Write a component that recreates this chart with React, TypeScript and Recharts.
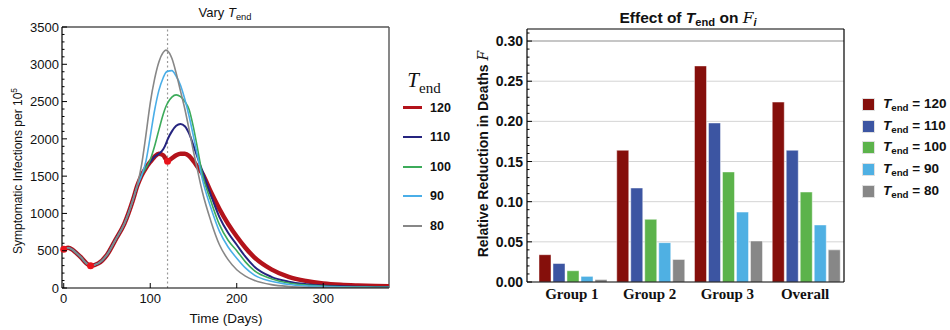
import React from 'react';
import {
  LineChart, Line, XAxis, YAxis, ReferenceLine, ReferenceDot,
  BarChart, Bar, CartesianGrid,
} from 'recharts';

// ---- left panel: symptomatic infections per 10^5 over time ----
const DAYS = [0, 5, 10, 15, 20, 25, 31, 40, 50, 60, 70, 80, 85, 90, 95, 100, 105, 110, 115, 118, 120, 125, 130, 135, 140, 145, 150, 155, 160, 170, 180, 190, 200, 210, 220, 240, 260, 280, 300, 320, 340, 360, 376];

const INF_120 = [520, 540, 515, 465, 410, 345, 300, 330, 445, 650, 860, 1180, 1370, 1510, 1610, 1690, 1760, 1800, 1780, 1730, 1700, 1740, 1780, 1800, 1800, 1770, 1700, 1620, 1540, 1290, 1060, 860, 690, 540, 415, 250, 150, 95, 62, 44, 34, 27, 23];
const INF_110 = [520, 540, 515, 465, 410, 345, 300, 330, 445, 650, 860, 1180, 1370, 1510, 1610, 1690, 1760, 1800, 1860, 1930, 1990, 2100, 2175, 2200, 2170, 2070, 1910, 1740, 1580, 1250, 950, 740, 580, 420, 290, 150, 85, 52, 34, 24, 18, 14, 12];
const INF_100 = [520, 540, 515, 465, 410, 345, 300, 330, 445, 650, 860, 1180, 1370, 1510, 1610, 1720, 1900, 2120, 2330, 2430, 2480, 2560, 2590, 2565, 2500, 2390, 2150, 1850, 1540, 1170, 850, 640, 500, 350, 235, 125, 68, 40, 25, 17, 13, 10, 9];
const INF_90 = [520, 540, 515, 465, 410, 345, 300, 330, 445, 650, 860, 1180, 1370, 1510, 1700, 2030, 2380, 2650, 2820, 2890, 2905, 2915, 2840, 2720, 2530, 2300, 2030, 1750, 1470, 1080, 760, 550, 400, 270, 175, 90, 48, 28, 18, 12, 9, 7, 6];
const INF_80 = [520, 540, 515, 465, 410, 345, 300, 330, 445, 650, 860, 1180, 1380, 1650, 2050, 2480, 2800, 3030, 3160, 3190, 3180, 3080, 2880, 2640, 2400, 2120, 1830, 1560, 1300, 900, 580, 380, 245, 160, 105, 45, 20, 10, 6, 4, 3, 2, 2];

const LEFT_X_DOMAIN = [-2, 376];
const LEFT_Y_DOMAIN = [0, 3500];
const LEFT_X_TICKS = [0, 100, 200, 300];
const T_END_LABELS = ['120', '110', '100', '90', '80'];
const LINE_KEYS = ['t120', 't110', 't100', 't90', 't80'];
const LINE_COLORS = ['#b3131b', '#25247f', '#3cab5a', '#4aaee8', '#878787'];
const LINE_WIDTHS = [4.5, 2, 1.6, 1.6, 1.6];
const SWITCH_DAY = 120;
const MARKERS = [
  { day: 0, value: 520 },
  { day: 31, value: 300 },
  { day: 120, value: 1700 },
];

// ---- right panel: relative reduction in deaths ----
const GROUPS = ['Group 1', 'Group 2', 'Group 3', 'Overall'];
const RED_120 = [0.034, 0.164, 0.269, 0.224];
const RED_110 = [0.023, 0.117, 0.198, 0.164];
const RED_100 = [0.014, 0.078, 0.137, 0.112];
const RED_90 = [0.007, 0.049, 0.087, 0.071];
const RED_80 = [0.003, 0.028, 0.051, 0.040];
const BAR_COLORS = ['#850f0b', '#3c55a2', '#5cb34b', '#4fb0e3', '#878787'];
const RIGHT_GRID = [0.05, 0.1, 0.15, 0.2, 0.25];
const RIGHT_TOP_GRID = [0.3];
const RIGHT_Y_DOMAIN = [0, 0.315];

const lineData = DAYS.map((day, i) => ({
  day,
  t120: INF_120[i],
  t110: INF_110[i],
  t100: INF_100[i],
  t90: INF_90[i],
  t80: INF_80[i],
}));

const barData = GROUPS.map((group, i) => ({
  group,
  t120: RED_120[i],
  t110: RED_110[i],
  t100: RED_100[i],
  t90: RED_90[i],
  t80: RED_80[i],
}));

// minor tick positions (major ones carry labels)
const leftMinor = Array.from({ length: 36 }, (_, i) => i * 100);
const rightMinor = Array.from({ length: 32 }, (_, i) => i / 100);

const SANS = '"Liberation Sans", Arial, sans-serif';
const SERIF = '"Liberation Serif", "Times New Roman", serif';

const LeftYTick = (props: any) => {
  const { x, y, payload } = props;
  const ax = x + 3;
  const major = payload.value % 500 === 0;
  return (
    <g>
      <line x1={ax} x2={ax + (major ? 5 : 2.5)} y1={y} y2={y} stroke="#000" strokeWidth={1} />
      {major && (
        <text x={x} y={y} dy="0.36em" textAnchor="end" fontSize={13} fontFamily={SANS} fill="#111">
          {payload.value}
        </text>
      )}
    </g>
  );
};

const LeftXTick = (props: any) => {
  const { x, y, payload } = props;
  const ay = y - 6;
  return (
    <g>
      <line x1={x} x2={x} y1={ay} y2={ay - 5} stroke="#000" strokeWidth={1} />
      <text x={x} y={y} dy="0.72em" textAnchor="middle" fontSize={13} fontFamily={SANS} fill="#111">
        {payload.value}
      </text>
    </g>
  );
};

const RightYTick = (props: any) => {
  const { x, y, payload } = props;
  const ax = x + 4;
  const v = Math.round(payload.value * 100);
  const major = v % 5 === 0;
  return (
    <g>
      <line x1={ax} x2={ax + (major ? 5 : 2.5)} y1={y} y2={y} stroke="#000" strokeWidth={1} />
      {major && (
        <text x={x} y={y} dy="0.36em" textAnchor="end" fontSize={14} fontWeight="bold" fontFamily={SANS} fill="#111">
          {payload.value.toFixed(2)}
        </text>
      )}
    </g>
  );
};

const CatTick = (props: any) => {
  const { x, y, payload } = props;
  return (
    <text x={x} y={y} dy="0.72em" textAnchor="middle" fontSize={15} fontWeight="bold" fontFamily={SERIF} fill="#111">
      {payload.value}
    </text>
  );
};

const TEnd = ({ bold }: { bold?: boolean }) => (
  <span>
    <i>T</i>
    <sub style={{ fontSize: '0.72em', verticalAlign: '-0.3em', fontWeight: bold ? 'bold' : 'normal' }}>end</sub>
  </span>
);

const ScriptF = () => (
  <i style={{ fontFamily: '"DejaVu Serif", serif', fontWeight: 'normal' }}>F</i>
);

const centered = (left: number, top: number, extra: React.CSSProperties = {}): React.CSSProperties => ({
  position: 'absolute',
  left,
  top,
  transform: 'translate(-50%, -50%)',
  whiteSpace: 'nowrap',
  lineHeight: 1,
  color: '#111',
  ...extra,
});

export default function App() {
  return (
    <div style={{ position: 'absolute', left: 0, top: 0, width: 950, height: 330, background: '#fff', fontFamily: SANS }}>
      {/* left panel */}
      <div style={{ position: 'absolute', left: 0, top: 0 }}>
        <LineChart width={400} height={330} data={lineData} margin={{ top: 27, right: 11, bottom: 0, left: 0 }}>
          <XAxis
            dataKey="day"
            type="number"
            domain={LEFT_X_DOMAIN}
            ticks={LEFT_X_TICKS}
            allowDataOverflow
            tick={<LeftXTick />}
            tickSize={0}
            tickMargin={6}
            tickLine={false}
            axisLine={{ stroke: '#000', strokeWidth: 1.2 }}
            height={42}
          />
          <YAxis
            type="number"
            domain={LEFT_Y_DOMAIN}
            ticks={leftMinor}
            interval={0}
            allowDataOverflow
            tick={<LeftYTick />}
            tickSize={0}
            tickMargin={3}
            tickLine={false}
            axisLine={{ stroke: '#000', strokeWidth: 1.2 }}
            width={62}
          />
          {/* frame: top and right edges */}
          <ReferenceLine y={LEFT_Y_DOMAIN[1]} stroke="#555" strokeWidth={1.4} ifOverflow="visible" />
          <ReferenceLine x={LEFT_X_DOMAIN[1]} stroke="#555" strokeWidth={1.4} ifOverflow="visible" />
          <ReferenceLine x={SWITCH_DAY} stroke="#999" strokeWidth={1.2} strokeDasharray="2 2.5" />
          {LINE_KEYS.map((k, i) => (
            <Line
              key={k}
              type="monotone"
              dataKey={k}
              stroke={LINE_COLORS[i]}
              strokeWidth={LINE_WIDTHS[i]}
              dot={false}
              isAnimationActive={false}
            />
          ))}
          {MARKERS.map((m) => (
            <ReferenceDot key={m.day} x={m.day} y={m.value} r={3.5} fill="#e8141c" stroke="none" />
          ))}
        </LineChart>
      </div>

      <div style={centered(225, 14, { fontSize: 13 })}>
        Vary <TEnd />
      </div>
      <div style={centered(226, 319, { fontSize: 13.5 })}>Time (Days)</div>
      <div style={centered(17, 171, { fontSize: 12, transform: 'translate(-50%, -50%) rotate(-90deg)' })}>
        Symptomatic Infections per 10<sup style={{ fontSize: '0.7em', verticalAlign: '0.6em' }}>5</sup>
      </div>

      {/* left legend */}
      <div style={centered(424, 83, { fontSize: 21, fontFamily: SERIF })}>
        <i>T</i>
        <span style={{ fontSize: 15, verticalAlign: '-0.35em' }}>end</span>
      </div>
      {T_END_LABELS.map((lab, i) => (
        <div key={lab} style={{ position: 'absolute', left: 403, top: 107.5 + i * 29.6 - 8, height: 16, display: 'flex', alignItems: 'center' }}>
          <div style={{ width: 19, height: i === 0 ? 3.5 : 1.8, background: LINE_COLORS[i] }} />
          <div style={{ marginLeft: 8, fontSize: 12.5, fontWeight: 'bold', color: '#111' }}>{lab}</div>
        </div>
      ))}

      {/* right panel */}
      <div style={{ position: 'absolute', left: 400, top: 0 }}>
        <BarChart
          width={450}
          height={330}
          data={barData}
          margin={{ top: 28, right: 5, bottom: 0, left: 0 }}
          barCategoryGap={6}
          barGap={2}
        >
          <CartesianGrid vertical={false} horizontalValues={RIGHT_GRID} stroke="#d4d4d4" strokeWidth={1} />
          <CartesianGrid vertical={false} horizontalValues={RIGHT_TOP_GRID} stroke="#c6c6c6" strokeWidth={2} />
          <XAxis
            dataKey="group"
            padding={{ left: 6, right: 0 }}
            tick={<CatTick />}
            tickSize={0}
            tickMargin={6}
            tickLine={false}
            axisLine={{ stroke: '#000', strokeWidth: 1.2 }}
            height={48}
            interval={0}
          />
          {/* top and right frame edges drawn as bare axes */}
          <XAxis xAxisId="top" dataKey="group" orientation="top" tick={false} tickLine={false} height={1} axisLine={{ stroke: '#000', strokeWidth: 1.2 }} />
          <YAxis
            type="number"
            domain={RIGHT_Y_DOMAIN}
            ticks={rightMinor}
            interval={0}
            allowDataOverflow
            tick={<RightYTick />}
            tickSize={0}
            tickMargin={4}
            tickLine={false}
            axisLine={{ stroke: '#000', strokeWidth: 1.2 }}
            width={127}
          />
          <YAxis yAxisId="right" orientation="right" domain={RIGHT_Y_DOMAIN} tick={false} tickLine={false} width={1} axisLine={{ stroke: '#000', strokeWidth: 1.2 }} />
          {LINE_KEYS.map((k, i) => (
            <Bar
              key={k}
              dataKey={k}
              fill={BAR_COLORS[i]}
              stroke="rgba(255,255,255,0.45)"
              strokeWidth={1}
              isAnimationActive={false}
            />
          ))}
        </BarChart>
      </div>

      <div style={centered(688, 19, { fontSize: 15.5, fontWeight: 'bold' })}>
        Effect of <TEnd bold /> on <ScriptF />
        <sub style={{ fontSize: '0.7em', verticalAlign: '-0.3em' }}><i>i</i></sub>
      </div>
      <div style={centered(483, 153.5, { fontSize: 14, fontWeight: 'bold', transform: 'translate(-50%, -50%) rotate(-90deg)' })}>
        Relative Reduction in Deaths <ScriptF />
      </div>

      {/* right legend */}
      {T_END_LABELS.map((lab, i) => (
        <div key={lab} style={{ position: 'absolute', left: 863, top: 104.7 + i * 21.6 - 8, height: 16, display: 'flex', alignItems: 'center' }}>
          <div style={{ width: 11, height: 11, background: BAR_COLORS[i], boxShadow: '0 0 0 1px rgba(0,0,0,0.12)' }} />
          <div style={{ marginLeft: 9, fontSize: 13.5, fontWeight: 'bold', color: '#111', whiteSpace: 'nowrap' }}>
            <TEnd bold /> = {lab}
          </div>
        </div>
      ))}
    </div>
  );
}
